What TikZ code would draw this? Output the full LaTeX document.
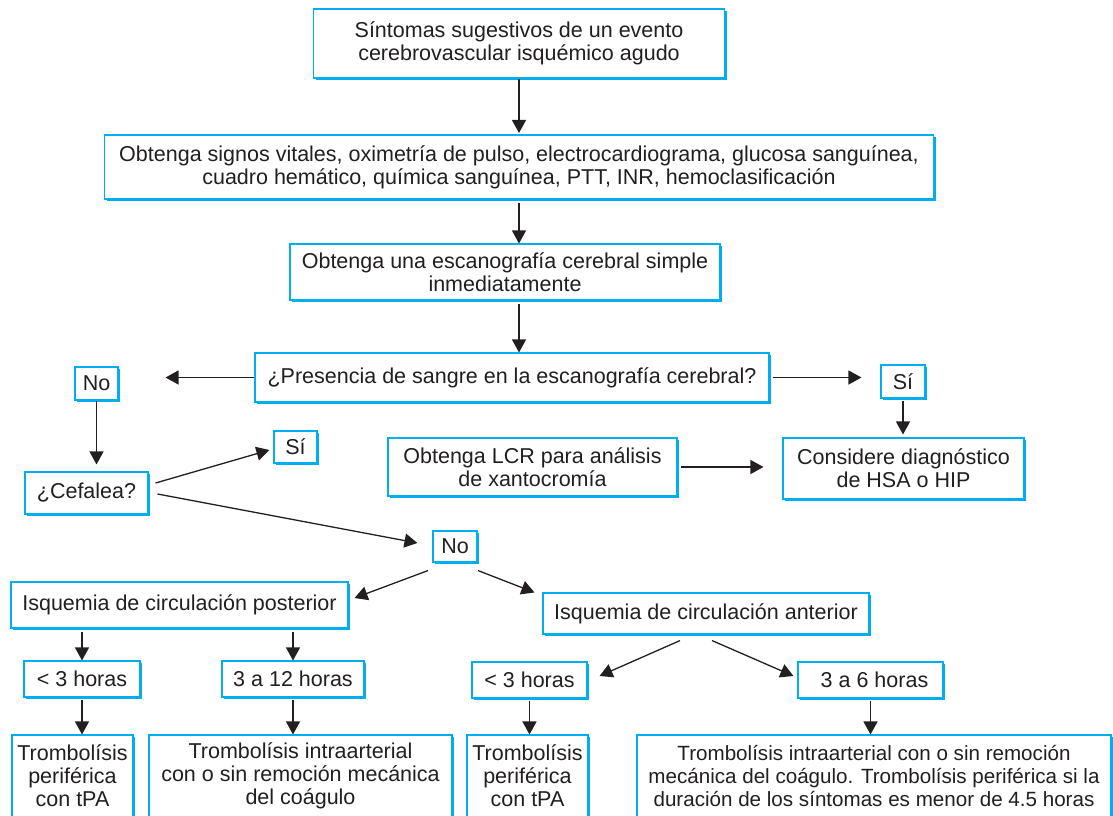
\documentclass[tikz,border=0pt]{standalone}
\usepackage{fontspec}
\setmainfont{Liberation Sans}
\usepackage{xcolor}
\usetikzlibrary{arrows.meta, shadows, calc}

\definecolor{boxcyan}{RGB}{0,174,239}
\definecolor{inkgray}{RGB}{35,31,32}

\begin{document}
\begin{tikzpicture}[
    x=1pt, y=-1pt,
    box/.style={rectangle, draw=boxcyan, line width=1.1pt, fill=white, inner sep=0pt,
        align=center, text=inkgray, font=\fontsize{21.5}{23}\selectfont,
        drop shadow={shadow xshift=2pt, shadow yshift=-2pt, opacity=1, fill=boxcyan}},
    arrow/.style={-{Triangle[length=13pt, width=14pt]}, line width=1.3pt, draw=inkgray}
    ]

    \clip (0,0) rectangle (1113,815);

    % Initial steps
    \node (sint) [box, minimum width=411, minimum height=69] at (519,43.5)
        {Síntomas sugestivos de un evento\\cerebrovascular isquémico agudo};
    \node (signos) [box, minimum width=829, minimum height=64] at (519,167)
        {Obtenga signos vitales, oximetría de pulso, electrocardiograma, glucosa sanguínea,\\cuadro hemático, química sanguínea, PTT, INR, hemoclasificación};
    \node (escan) [box, minimum width=430, minimum height=56] at (505,272)
        {Obtenga una escanografía cerebral simple\\inmediatamente};
    \node (pres) [box, minimum width=514, minimum height=49] at (512,377.5)
        {¿Presencia de sangre en la escanografía cerebral?};

    % Blood on the scan
    \node (siA) [box, minimum width=44, minimum height=33] at (903,381.5) {Sí};
    \node (lcr) [box, minimum width=289, minimum height=58] at (532.5,467)
        {Obtenga LCR para análisis\\de xantocromía};
    \node (cons) [box, minimum width=241, minimum height=61] at (903.5,468.5)
        {Considere diagnóstico\\de HSA o HIP};

    % No blood on the scan
    \node (noA) [box, minimum width=43, minimum height=33] at (96.5,383.5) {No};
    \node (cef) [box, minimum width=123, minimum height=42] at (86.5,493) {¿Cefalea?};
    \node (siB) [box, minimum width=43, minimum height=32] at (295.5,447) {Sí};
    \node (noB) [box, minimum width=44, minimum height=31] at (455,546.5) {No};

    % Posterior circulation
    \node (post) [box, minimum width=337, minimum height=46] at (179.5,605)
        {Isquemia de circulación posterior};
    \node (h3a) [box, minimum width=116, minimum height=36] at (82,679) {< 3 horas};
    \node (h12) [box, minimum width=142, minimum height=36] at (293,679) {3 a 12 horas};
    \node (tpaA) [box, minimum width=121, minimum height=82] at (72.5,776)
        {Trombolísis\\periférica\\con tPA};
    \node (iaA) [box, minimum width=303, minimum height=82] at (300.5,776)
        {Trombolísis intraarterial\\con o sin remoción mecánica\\del coágulo};

    % Anterior circulation
    \node (ant) [box, minimum width=326, minimum height=41] at (706,613.5)
        {Isquemia de circulación anterior};
    \node (h3b) [box, minimum width=115, minimum height=36] at (529.5,680) {< 3 horas};
    \node (h6) [box, minimum width=145, minimum height=36] at (870.5,680) {\hspace{8pt}3 a 6 horas};
    \node (tpaB) [box, minimum width=121, minimum height=82] at (527.5,776)
        {Trombolísis\\periférica\\con tPA};
    \node (iaB) [box, minimum width=474, minimum height=82, font=\fontsize{20.6}{23}\selectfont] at (874,776)
        {Trombolísis intraarterial con o sin remoción\\mecánica del coágulo. Trombolísis periférica si la\\duración de los síntomas es menor de 4.5 horas};

    % Main column
    \draw[arrow, shorten >=1.5pt] (sint.south) -- (signos.north);
    \draw[arrow, shorten <=3pt] (signos.south) -- (signos.south |- escan.north);
    \draw[arrow, shorten <=3pt] (escan.south -| signos.south) -- (signos.south |- pres.north);

    % Decision on blood
    \draw[arrow, shorten >=47pt] (pres.west) -- (pres.west -| noA.east);
    \draw[arrow, shorten <=3pt, shorten >=19pt] (pres.east) -- (pres.east -| siA.west);
    \draw[arrow, shorten <=2pt, shorten >=3pt] (siA.south) -- (siA.south |- cons.north);
    \draw[arrow, shorten <=3pt, shorten >=19pt] (lcr.east) -- (lcr.east -| cons.west);
    \draw[arrow, shorten >=7pt] (noA.south) -- (noA.south |- cef.north);

    % Headache or not
    \draw[arrow] ($(cef.east)+(7,-10)$) -- ($(siB.west)+(-4,3)$);
    \draw[arrow] ($(cef.east)+(9,1)$) -- ($(noB.west)+(-15,-3.5)$);
    \draw[arrow] ($(noB.south)+(-27,8)$) -- ($(post.east)+(6,-7)$);
    \draw[arrow] ($(noB.south)+(23,8)$) -- ($(ant.north west)+(-8,0)$);

    % Time windows, posterior
    \draw[arrow, shorten <=3pt] (post.south -| h3a.north) -- (h3a.north);
    \draw[arrow, shorten <=3pt] (post.south -| h12.north) -- (h12.north);
    \draw[arrow, shorten <=2pt] (h3a.south) -- (h3a.south |- tpaA.north);
    \draw[arrow, shorten <=2pt] (h12.south) -- (h12.south |- iaA.north);

    % Time windows, anterior
    \draw[arrow] ($(ant.south)+(-26,6)$) -- ($(h3b.east)+(12,-4)$);
    \draw[arrow] ($(ant.south)+(6,6)$) -- ($(h6.west)+(-4,-4)$);
    \draw[arrow, shorten <=2pt] (h3b.south) -- (h3b.south |- tpaB.north);
    \draw[arrow, shorten <=2pt] (h6.south) -- (h6.south |- iaB.north);
\end{tikzpicture}
\end{document}
